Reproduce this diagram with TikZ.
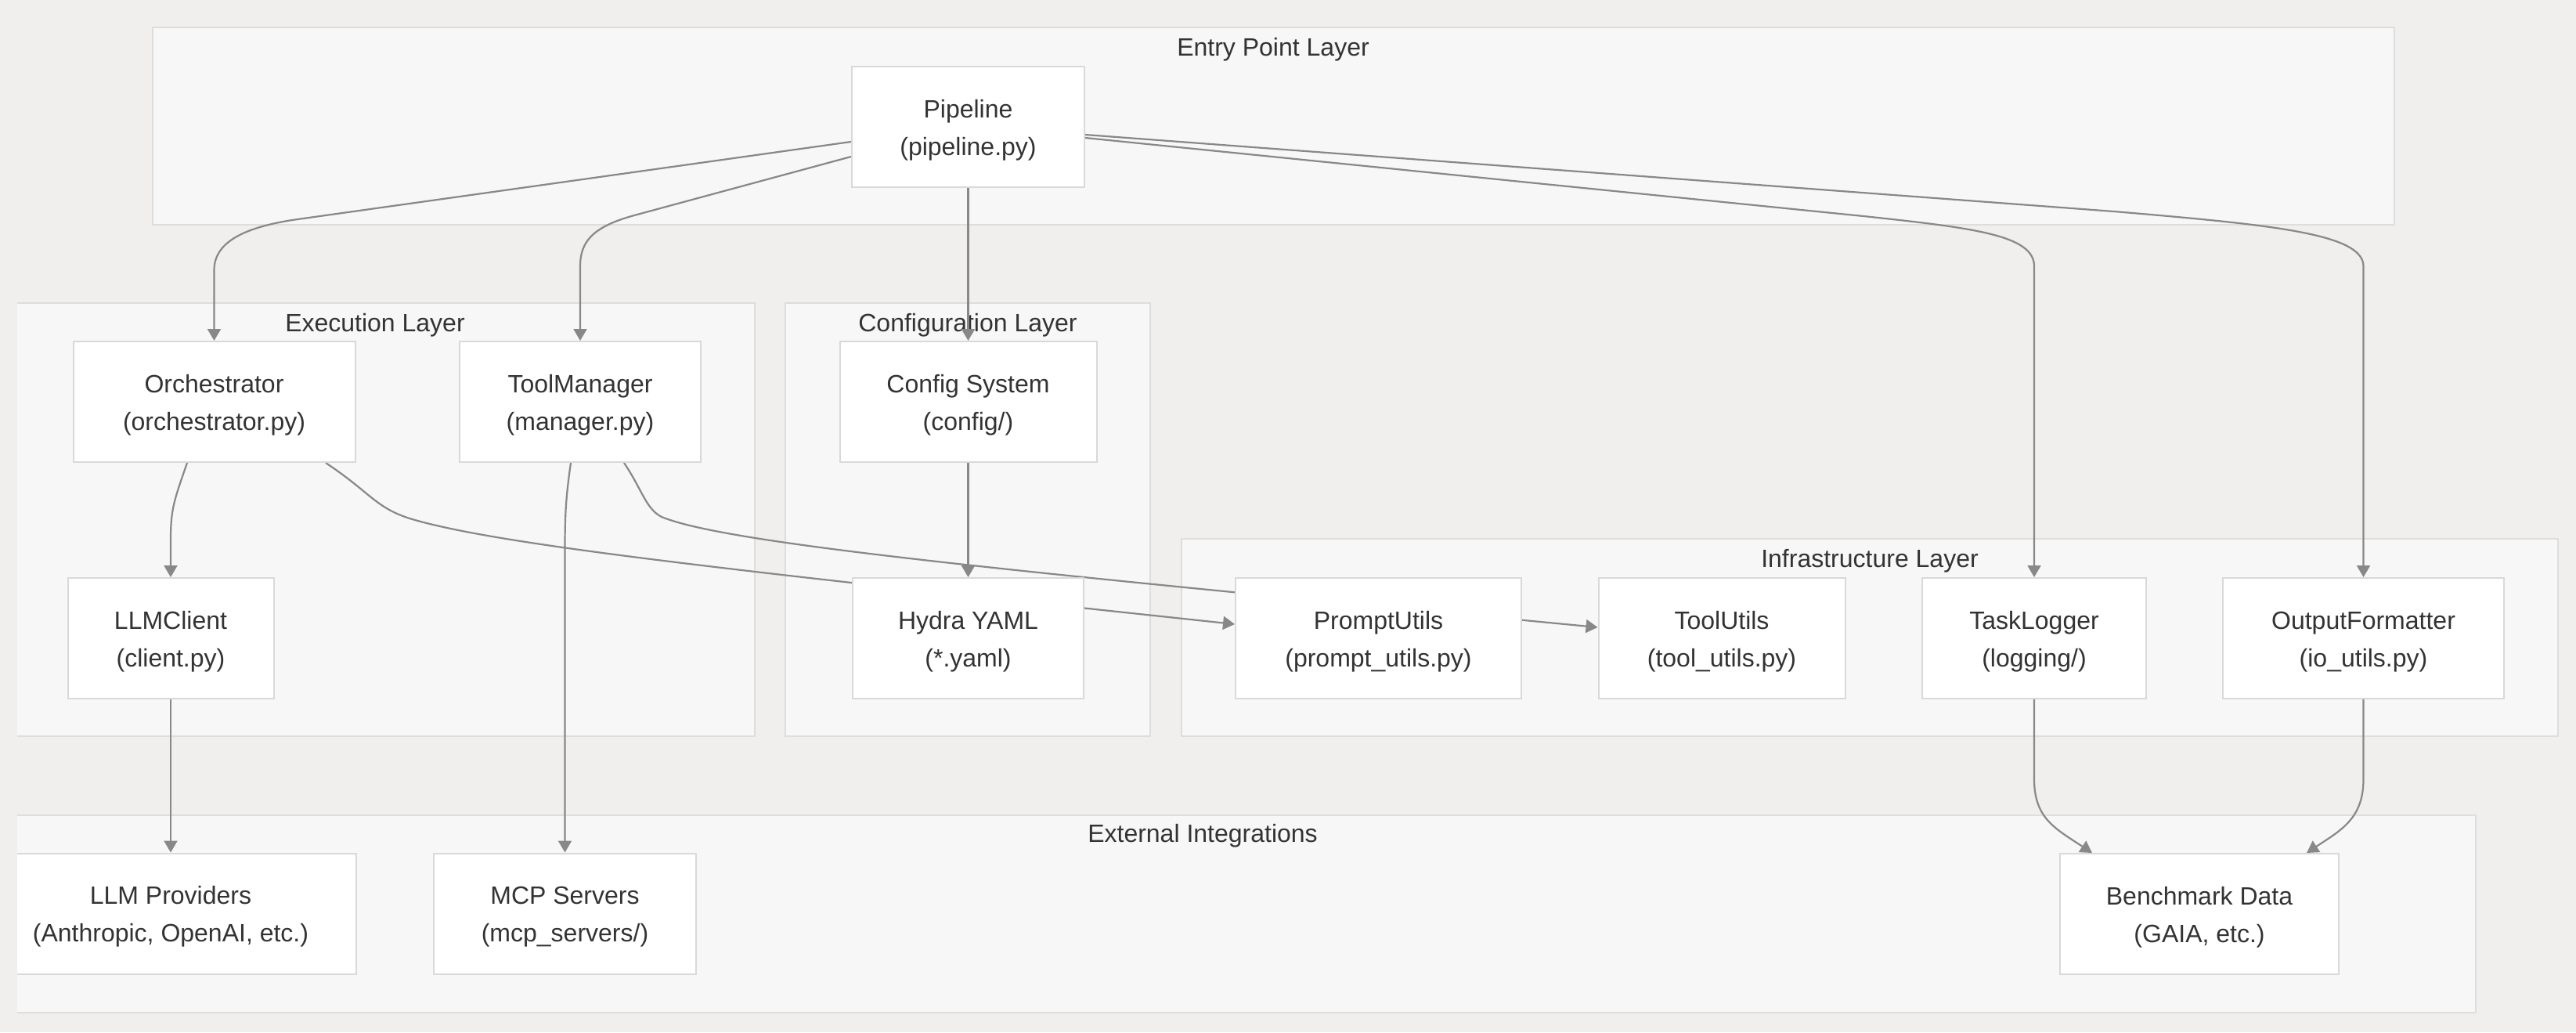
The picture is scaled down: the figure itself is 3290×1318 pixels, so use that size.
\documentclass[tikz,border=0pt]{standalone}
\usepackage{fontspec}
\setmainfont{Liberation Sans}
\usetikzlibrary{arrows.meta}
\definecolor{bgc}{RGB}{240,239,237}
\definecolor{clfill}{RGB}{247,247,247}
\definecolor{clline}{RGB}{221,221,221}
\definecolor{ndline}{RGB}{217,217,217}
\definecolor{edgec}{RGB}{136,136,136}
\definecolor{txt}{RGB}{51,51,51}
\pgfdeclarelayer{bglayer}
\pgfdeclarelayer{edgelayer}
\pgfsetlayers{bglayer,edgelayer,main}
\newcommand{\fl}{\rule{0pt}{31pt}}
\begin{document}
\begin{tikzpicture}[x=1pt,y=-1pt,
  cluster/.style={fill=clfill,draw=clline,line width=2pt},
  ctitle/.style={text=txt,font=\fontsize{32}{48}\selectfont,inner sep=0pt},
  nbox/.style={rectangle,fill=white,draw=ndline,line width=2pt,text=txt,
    font=\fontsize{32}{48}\selectfont,align=center,inner sep=0pt,minimum height=154pt},
  edge/.style={draw=edgec,line width=2.2pt},
  arr/.style={edge,-{Triangle[length=15pt,width=17pt]}}
]
\useasboundingbox (0,0) rectangle (3290,1318);

% ---- nodes ----
\node[nbox,minimum width=297pt] (pipe) at (1236.5,162) {\fl Pipeline\\(pipeline.py)};
\node[nbox,minimum width=360pt] (orch) at (273.5,513) {\fl Orchestrator\\(orchestrator.py)};
\node[nbox,minimum width=308pt] (tm) at (741,513) {\fl ToolManager\\(manager.py)};
\node[nbox,minimum width=328pt] (cfg) at (1236.5,513) {\fl Config System\\(config/)};
\node[nbox,minimum width=263pt] (llmc) at (218,815) {\fl LLMClient\\(client.py)};
\node[nbox,minimum width=295pt] (hydra) at (1236.5,815) {\fl Hydra YAML\\(*.yaml)};
\node[nbox,minimum width=365pt] (pu) at (1760.5,815) {\fl PromptUtils\\(prompt\_utils.py)};
\node[nbox,minimum width=315pt] (tu) at (2199,815) {\fl ToolUtils\\(tool\_utils.py)};
\node[nbox,minimum width=286pt] (tl) at (2598,815) {\fl TaskLogger\\(logging/)};
\node[nbox,minimum width=359pt] (of) at (3018.5,815) {\fl OutputFormatter\\(io\_utils.py)};
\node[nbox,minimum width=474pt] (llmp) at (218,1166.5) {\fl LLM Providers\\(Anthropic, OpenAI, etc.)};
\node[nbox,minimum width=335pt] (mcp) at (721.5,1166.5) {\fl MCP Servers\\(mcp\_servers/)};
\node[nbox,minimum width=356pt] (bench) at (2809,1167) {\fl Benchmark Data\\(GAIA, etc.)};

% ---- clusters ----
\begin{pgfonlayer}{bglayer}
\fill[bgc] (0,0) rectangle (3290,1318);
\draw[cluster] (195,35) rectangle (3058,287);
\draw[cluster] (-50,387) rectangle (964,940);
\draw[cluster] (1003,387) rectangle (1469,940);
\draw[cluster] (1509,688) rectangle (3267,940);
\draw[cluster] (-50,1041) rectangle (3162,1293);
\node[ctitle] (tentry) at (1626,63) {Entry Point Layer};
\node[ctitle] (texec) at (479,415) {Execution Layer};
\node[ctitle] (tconf) at (1236,415) {Configuration Layer};
\node[ctitle] (tinfra) at (2388,716) {Infrastructure Layer};
\node[ctitle] (text) at (1536,1067) {External Integrations};
\end{pgfonlayer}

% ---- edges ----
\begin{pgfonlayer}{edgelayer}
\draw[arr] ([yshift=-19pt]pipe.west) -- (380,280) .. controls (310,290) and (273.5,310) .. (273.5,345) -- (orch.north);
\draw[arr] ([yshift=-38pt]pipe.west) -- (810,275) .. controls (755,290) and (741,310) .. (741,340) -- (tm.north);
\draw[arr] (pipe.south) -- (cfg.north);
\draw[arr] ([yshift=-14pt]pipe.east) -- (2380,276) .. controls (2520,291) and (2598,300) .. (2598,340) -- (tl.north);
\draw[arr] ([yshift=-10pt]pipe.east) -- (2700,270) .. controls (2900,287) and (3018.5,298) .. (3018.5,340) -- (of.north);
\draw[arr] ([xshift=-34.5pt]orch.south) .. controls (222,640) and (218,650) .. (218,690) -- (llmc.north);
\draw[arr] ([xshift=142.5pt]orch.south) .. controls (475,630) and (480,650) .. (530,664) .. controls (640,695) and (900,725) .. ([yshift=18pt]pu.west);
\draw[arr] ([xshift=56pt]tm.south) .. controls (820,625) and (825,650) .. (845,660) .. controls (930,695) and (1300,730) .. ([yshift=14pt]tu.west);
\draw[arr] ([xshift=-12pt]tm.south) .. controls (722,640) and (721.5,660) .. (721.5,710) -- (mcp.north);
\draw[arr] (cfg.south) -- (hydra.north);
\draw[arr] (llmc.south) -- (llmp.north);
\draw[arr] (tl.south) -- (2598,995) .. controls (2598,1045) and (2625,1058) .. ([xshift=-137pt]bench.north);
\draw[arr] (of.south) -- (3018.5,995) .. controls (3018.5,1045) and (2990,1060) .. ([xshift=137pt]bench.north);
\end{pgfonlayer}

% left margin strip
\fill[bgc] (0,0) rectangle (22,1318);
\end{tikzpicture}
\end{document}
